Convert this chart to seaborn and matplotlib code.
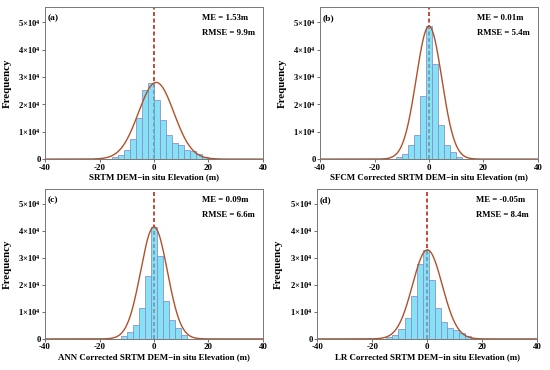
import numpy as np
import pandas as pd
import matplotlib
matplotlib.use("Agg")
import matplotlib.pyplot as plt
import seaborn as sns

# values (counts in units of 1e4)
panel_tags = ["(a)", "(b)", "(c)", "(d)"]
xlabels = ["SRTM DEM\u2212in situ Elevation (m)",
           "SFCM Corrected SRTM DEM\u2212in situ Elevation (m)",
           "ANN Corrected SRTM DEM\u2212in situ Elevation (m)",
           "LR Corrected SRTM DEM\u2212in situ Elevation (m)"]
me_text = ["ME = 1.53m", "ME = 0.01m", "ME = 0.09m", "ME = -0.05m"]
rmse_text = ["RMSE = 9.9m", "RMSE = 5.4m", "RMSE = 6.6m", "RMSE = 8.4m"]

bin_width = 2.2
centers_a = [-14.3, -12.1, -9.9, -7.7, -5.5, -3.3, -1.1, 1.1, 3.3, 5.5, 7.7, 9.9, 12.1, 14.3, 16.5, 18.7]
counts_a = [0.06, 0.15, 0.35, 0.72, 1.5, 2.54, 2.78, 2.17, 1.43, 0.88, 0.6, 0.51, 0.33, 0.3, 0.2, 0.06]
centers_b = [-11.0, -8.8, -6.6, -4.4, -2.2, 0.0, 2.2, 4.4, 6.6, 8.8, 11.0]
counts_b = [0.07, 0.2, 0.51, 0.88, 2.3, 4.85, 3.47, 1.25, 0.51, 0.27, 0.09]
centers_c = [-11.0, -8.8, -6.6, -4.4, -2.2, 0.0, 2.2, 4.4, 6.6, 8.8, 11.0]
counts_c = [0.09, 0.25, 0.53, 1.13, 2.34, 4.15, 3.06, 1.42, 0.7, 0.39, 0.15]
centers_d = [-13.8, -11.6, -9.4, -7.2, -5.0, -2.8, -0.6, 1.6, 3.8, 6.0, 8.2, 10.4, 12.6, 14.8, 17.0]
counts_d = [0.06, 0.15, 0.37, 0.76, 1.58, 2.76, 3.28, 2.17, 1.13, 0.64, 0.39, 0.33, 0.21, 0.11, 0.05]

# normal curve drawn over each histogram: centre, spread, peak (1e4)
curve_mu = [0.8, 0.0, 0.0, 0.0]
curve_sd = [6.5, 4.7, 4.9, 5.4]
curve_peak = [2.8, 4.85, 4.15, 3.3]

centers = [centers_a, centers_b, centers_c, centers_d]
counts = [counts_a, counts_b, counts_c, counts_d]

plt.rcParams["font.family"] = ["Liberation Serif", "DejaVu Serif"]
plt.rcParams["font.weight"] = "bold"
plt.rcParams["mathtext.fontset"] = "custom"
plt.rcParams["mathtext.rm"] = "Liberation Serif"
plt.rcParams["mathtext.bf"] = "Liberation Serif:bold"

fig = plt.figure(figsize=(5.5, 3.7), dpi=100)
positions = [[0.082, 0.570, 0.396, 0.411],
             [0.582, 0.570, 0.396, 0.411],
             [0.082, 0.084, 0.396, 0.405],
             [0.577, 0.084, 0.400, 0.405]]

ytick_vals = [0, 1e4, 2e4, 3e4, 4e4, 5e4]
ytick_labels = ["0"] + [r"$\mathbf{%d{\times}10^{4}}$" % i for i in range(1, 6)]

for i in range(4):
    ax = fig.add_axes(positions[i])
    df = pd.DataFrame({"x": centers[i], "n": np.array(counts[i]) * 1e4})
    edges = [c - bin_width / 2 for c in centers[i]] + [centers[i][-1] + bin_width / 2]

    ax.axvline(0, color="#c0392b", ls=(0, (2.2, 1.4)), lw=1.3, zorder=1)
    sns.histplot(data=df, x="x", weights="n", bins=edges, ax=ax,
                 color="#45d2f0", alpha=0.65, edgecolor="#8a93cf", linewidth=0.6, zorder=2)

    xs = np.linspace(-40, 40, 400)
    ys = curve_peak[i] * 1e4 * np.exp(-0.5 * ((xs - curve_mu[i]) / curve_sd[i]) ** 2)
    sns.lineplot(x=xs, y=ys, ax=ax, color="#b0512a", lw=1.0, zorder=3)

    ax.set_xlim(-40, 40)
    ax.set_ylim(0, 5.55e4)
    ax.set_xticks([-40, -20, 0, 20, 40])
    ax.set_xticklabels(["-40", "-20", "0", "20", "40"], fontsize=6.4, fontweight="bold")
    ax.set_yticks(ytick_vals)
    ax.set_yticklabels(ytick_labels, fontsize=6.2)
    ax.tick_params(length=2.0, width=0.6, pad=1.2, color="#555555")
    ax.set_xlabel(xlabels[i], fontsize=6.4, fontweight="bold", labelpad=1.5)
    ax.set_ylabel("Frequency", fontsize=7.8, fontweight="bold")
    ax.yaxis.set_label_coords(-0.155, 0.5)
    for s in ax.spines.values():
        s.set_color("#777777")
        s.set_linewidth(0.7)

    ax.text(0.012, 0.955, panel_tags[i], transform=ax.transAxes, fontsize=6.8,
            fontweight="bold", va="top", ha="left")
    ax.text(0.72, 0.955, me_text[i], transform=ax.transAxes, fontsize=6.3,
            fontweight="bold", va="top", ha="left")
    ax.text(0.72, 0.855, rmse_text[i], transform=ax.transAxes, fontsize=6.3,
            fontweight="bold", va="top", ha="left")

fig.savefig("out.png", dpi=100)
